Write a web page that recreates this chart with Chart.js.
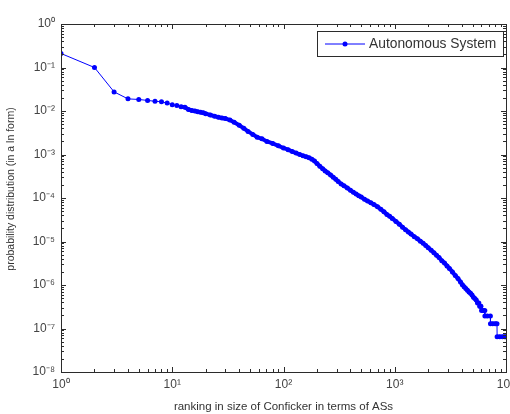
<!DOCTYPE html>
<html>
<head>
<meta charset="utf-8">
<script src="https://cdn.jsdelivr.net/npm/chart.js@4.4.0/dist/chart.umd.min.js"></script>
<style>
    body { margin: 0; background: #fff; }
</style>
</head>
<body>
<canvas id="asChart" width="510" height="414"></canvas>
<script>
// rank of each AS (by number of Conficker hosts)
const ranks = [1, 2, 3, 4, 5, 6, 7, 8, 9, 10, 11, 12, 13, 14, 15, 16, 17, 18, 19, 20,
    22, 24, 26, 28, 30, 33, 36, 40, 44, 48, 53, 58, 64, 71, 80, 90,
    100, 110, 120, 130, 140, 150, 160, 170, 180, 190, 200, 212, 225, 237, 250, 265, 280, 295,
    310, 330, 350, 375, 400, 425, 450, 475, 500, 535, 570, 610, 650, 700, 750, 800, 850, 900, 950,
    1025, 1100, 1175, 1250, 1325, 1400, 1500, 1600, 1700, 1800, 1900, 2000, 2125, 2250, 2375,
    2500, 2650, 2800, 2950, 3100, 3300, 3500, 3700, 3900, 4050, 4200, 4350, 4500, 4650, 4800,
    4950, 5100, 5250, 5400, 5550, 5700, 5800, 5900, 5950, 6030, 6250, 6450, 6460, 6800, 7240,
    7250, 7600, 8000, 8300, 8320, 8800, 9300, 9700, 10000];

// probability of each rank
const probs = [0.21, 0.10, 0.0275, 0.019, 0.0184, 0.0175, 0.0167, 0.0163, 0.0152, 0.0140,
    0.0133, 0.0126, 0.0122, 0.0108, 0.0103, 0.0100, 0.0096, 0.0093, 0.0091, 0.0087,
    0.0081, 0.0076, 0.0072, 0.0069, 0.0067, 0.0062, 0.0055, 0.0047, 0.0040, 0.0034, 0.0029,
    0.0025, 0.0023, 0.0020, 0.0018, 0.00158,
    0.00141, 0.00129, 0.00117, 0.00108, 0.00100, 0.00093, 0.00089, 0.00084, 0.00078, 0.00071,
    0.00062, 0.00054, 0.00047, 0.00042, 0.00038, 0.00034, 0.00030, 0.00027,
    0.00024, 0.00021, 0.00019, 0.00017, 0.00015, 0.000135, 0.000123, 0.000112, 0.000105,
    9.3e-5, 8.5e-5, 7.8e-5, 7.1e-5, 6.3e-5, 5.5e-5, 4.8e-5, 4.2e-5, 3.8e-5, 3.4e-5,
    2.9e-5, 2.5e-5, 2.14e-5, 1.86e-5, 1.66e-5, 1.48e-5, 1.29e-5, 1.15e-5, 1.02e-5, 9.1e-6,
    8.1e-6, 7.2e-6, 6.3e-6, 5.5e-6, 4.8e-6,
    4.3e-6, 3.6e-6, 3.2e-6, 2.75e-6, 2.4e-6, 2.0e-6, 1.66e-6, 1.41e-6, 1.17e-6, 1.02e-6,
    9.1e-7, 8.3e-7, 7.6e-7, 6.9e-7, 6.5e-7,
    5.9e-7, 5.2e-7, 4.9e-7, 4.5e-7, 3.87e-7, 3.87e-7, 3.23e-7, 3.23e-7, 3.23e-7, 2.58e-7,
    2.58e-7, 2.58e-7, 1.94e-7, 1.94e-7, 1.94e-7,
    1.29e-7, 1.29e-7, 1.29e-7, 1.29e-7, 6.46e-8, 6.46e-8, 6.46e-8, 6.46e-8, 6.46e-8];

// decade exponents used for tick labels
const xDecades = [0, 1, 2, 3, 4];
const yDecades = [-8, -7, -6, -5, -4, -3, -2, -1, 0];

const seriesLabel = 'Autonomous System';
const xTitle = 'ranking in size of Conficker in terms of ASs';
const yTitle = 'probability distribution (in a ln form)';

const fontFamily = "'Liberation Sans', Arial, Helvetica, sans-serif";
const blue = 'rgb(0, 0, 255)';
const axisColor = '#2b2b2b';

const supChars = { '0': '⁰', '1': '¹', '2': '²', '3': '³', '4': '⁴', '5': '⁵',
    '6': '⁶', '7': '⁷', '8': '⁸', '9': '⁹', '-': '⁻' };

function powerLabel(value) {
    const e = Math.round(Math.log10(value));
    return '10' + String(e).split('').map(c => supChars[c]).join('');
}

// matlab style box with inward ticks on all four sides, legend and y title
const matlabFrame = {
    id: 'matlabFrame',
    afterDraw(chart) {
        const { ctx, chartArea: a, scales } = chart;
        ctx.save();
        ctx.strokeStyle = axisColor;
        ctx.lineWidth = 1;
        ctx.strokeRect(Math.round(a.left) + 0.5, Math.round(a.top) + 0.5,
            Math.round(a.right - a.left), Math.round(a.bottom - a.top));

        ctx.beginPath();
        xDecades.forEach(d => {
            for (let k = 1; k <= 9; k++) {
                if (d === 4 && k > 1) break;
                const px = Math.round(scales.x.getPixelForValue(k * Math.pow(10, d))) + 0.5;
                const len = k === 1 ? 5 : 3;
                ctx.moveTo(px, a.bottom); ctx.lineTo(px, a.bottom - len);
                ctx.moveTo(px, a.top); ctx.lineTo(px, a.top + len);
            }
        });
        yDecades.forEach(d => {
            for (let k = 1; k <= 9; k++) {
                if (d === 0 && k > 1) break;
                const py = Math.round(scales.y.getPixelForValue(k * Math.pow(10, d))) + 0.5;
                const len = k === 1 ? 5 : 3;
                ctx.moveTo(a.left, py); ctx.lineTo(a.left + len, py);
                ctx.moveTo(a.right, py); ctx.lineTo(a.right - len, py);
            }
        });
        ctx.stroke();

        // y axis title, a little above the centre like the original
        ctx.save();
        ctx.translate(11, 189);
        ctx.rotate(-Math.PI / 2);
        ctx.fillStyle = '#333';
        ctx.font = '10.5px ' + fontFamily;
        ctx.textAlign = 'center';
        ctx.textBaseline = 'middle';
        ctx.fillText(yTitle, 0, 0);
        ctx.restore();

        // legend box
        const lx = 317, ly = 31, lw = 186, lh = 25;
        ctx.fillStyle = '#fff';
        ctx.fillRect(lx, ly, lw, lh);
        ctx.strokeRect(lx + 0.5, ly + 0.5, lw, lh);
        const my = ly + lh / 2 + 0.5;
        ctx.strokeStyle = blue;
        ctx.beginPath();
        ctx.moveTo(lx + 8, my); ctx.lineTo(lx + 48, my);
        ctx.stroke();
        ctx.fillStyle = blue;
        ctx.beginPath();
        ctx.arc(lx + 28, my, 2.5, 0, Math.PI * 2);
        ctx.fill();
        ctx.fillStyle = '#333';
        ctx.font = '13.8px ' + fontFamily;
        ctx.textBaseline = 'middle';
        ctx.fillText(seriesLabel, lx + 52, my);
        ctx.restore();
    }
};

function decadeTicks(list) {
    return scale => { scale.ticks = list.map(e => ({ value: Math.pow(10, e) })); };
}

const ctx = document.getElementById('asChart').getContext('2d');
new Chart(ctx, {
    type: 'line',
    data: {
        datasets: [{
            label: seriesLabel,
            data: ranks.map((r, i) => ({ x: r, y: probs[i] })),
            borderColor: blue,
            backgroundColor: blue,
            borderWidth: 1,
            pointRadius: 2.5,
            pointBorderWidth: 0,
            pointBackgroundColor: blue,
            tension: 0,
            segment: {
                borderWidth: c => {
                    const x0 = c.p0.parsed.x, y0 = c.p0.parsed.y, y1 = c.p1.parsed.y;
                    if (x0 < 12) return 1;
                    if (x0 > 5500 && y0 !== y1) return 1;
                    return 4;
                }
            }
        }]
    },
    options: {
        responsive: false,
        animation: false,
        layout: { padding: { top: 24, right: 4, left: 0, bottom: 0 } },
        plugins: {
            legend: { display: false },
            tooltip: { enabled: false }
        },
        scales: {
            x: {
                type: 'logarithmic',
                min: 1,
                max: 10000,
                grid: { display: false, drawTicks: false },
                border: { display: false },
                afterBuildTicks: decadeTicks(xDecades),
                afterFit: s => { s.height = 42; s.paddingLeft = 0; s.paddingRight = 0; },
                ticks: {
                    autoSkip: false,
                    maxRotation: 0,
                    padding: 5,
                    color: '#444',
                    font: { family: fontFamily, size: 12 },
                    callback: v => powerLabel(v)
                },
                title: {
                    display: true,
                    text: xTitle,
                    color: '#333',
                    font: { family: fontFamily, size: 11.5 },
                    padding: { top: 0, bottom: 0 }
                }
            },
            y: {
                type: 'logarithmic',
                min: 1e-8,
                max: 1,
                grid: { display: false, drawTicks: false },
                border: { display: false },
                afterBuildTicks: decadeTicks(yDecades),
                afterFit: s => { s.width = 61; s.paddingTop = 0; s.paddingBottom = 0; },
                ticks: {
                    autoSkip: false,
                    padding: 6,
                    color: '#444',
                    font: { family: fontFamily, size: 12 },
                    callback: v => powerLabel(v)
                }
            }
        }
    },
    plugins: [matlabFrame]
});
</script>
</body>
</html>
